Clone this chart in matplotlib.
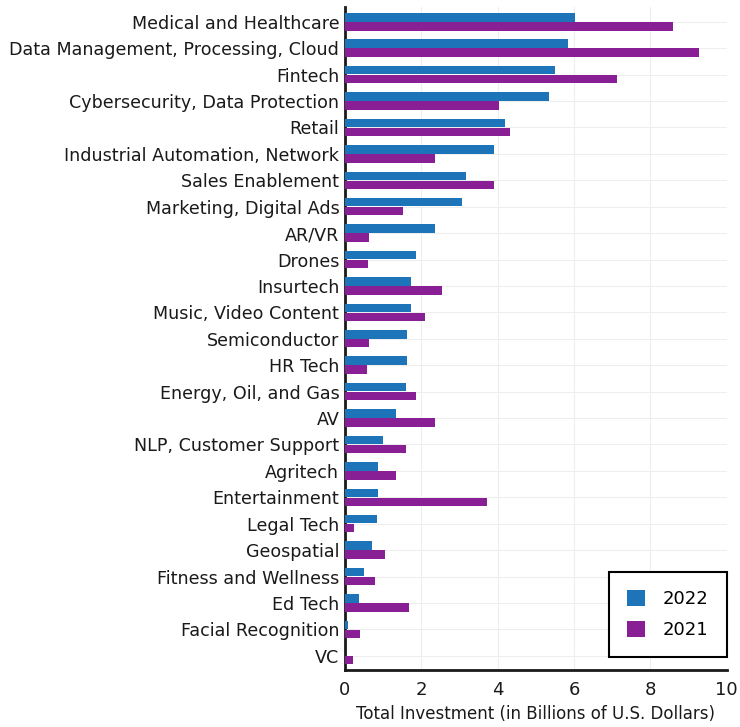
import matplotlib.pyplot as plt
import numpy as np

# categories top to bottom
categories = [
    "Medical and Healthcare", "Data Management, Processing, Cloud", "Fintech",
    "Cybersecurity, Data Protection", "Retail", "Industrial Automation, Network",
    "Sales Enablement", "Marketing, Digital Ads", "AR/VR", "Drones", "Insurtech",
    "Music, Video Content", "Semiconductor", "HR Tech", "Energy, Oil, and Gas",
    "AV", "NLP, Customer Support", "Agritech", "Entertainment", "Legal Tech",
    "Geospatial", "Fitness and Wellness", "Ed Tech", "Facial Recognition", "VC",
]
inv_2022 = [6.03, 5.85, 5.50, 5.35, 4.20, 3.90, 3.16, 3.06, 2.37, 1.87, 1.72,
            1.72, 1.64, 1.64, 1.60, 1.34, 1.01, 0.87, 0.87, 0.84, 0.72, 0.51,
            0.36, 0.07, 0.01]
inv_2021 = [8.60, 9.27, 7.12, 4.05, 4.32, 2.37, 3.90, 1.52, 0.62, 0.61, 2.55,
            2.11, 0.63, 0.57, 1.87, 2.37, 1.60, 1.34, 3.73, 0.24, 1.05, 0.78,
            1.69, 0.40, 0.22]

blue = "#1d74b9"
purple = "#881f94"

fig = plt.figure(figsize=(7.4, 7.27), dpi=100)
ax = fig.add_axes([0.466, 0.078, 0.516, 0.912])

y = np.arange(len(categories))[::-1]
h = 0.32
ax.barh(y + 0.17, inv_2022, height=h, color=blue, label="2022", zorder=3)
ax.barh(y - 0.17, inv_2021, height=h, color=purple, label="2021", zorder=3)

ax.set_yticks(y)
ax.set_yticklabels(categories, fontsize=12.6, color="#1a1a1a")
ax.set_ylim(-0.55, len(categories) - 0.45)
ax.set_xlim(0, 10)
ax.set_xticks([0, 2, 4, 6, 8, 10])
ax.tick_params(axis="x", labelsize=13, length=0, pad=8, colors="#1a1a1a")
ax.tick_params(axis="y", length=0, pad=4)
ax.set_xlabel("Total Investment (in Billions of U.S. Dollars)", fontsize=12,
              color="#1a1a1a", labelpad=4)

ax.grid(True, color="#eeeeee", linewidth=0.8, zorder=0)
for s in ["top", "right"]:
    ax.spines[s].set_visible(False)
for s in ["left", "bottom"]:
    ax.spines[s].set_linewidth(2)
    ax.spines[s].set_color("#1a1a1a")

leg = ax.legend(loc="lower right", bbox_to_anchor=(1.0, 0.02), borderaxespad=0,
                fontsize=13, fancybox=False, edgecolor="black", framealpha=1,
                handlelength=1.0, handleheight=1.0, handletextpad=1.0,
                borderpad=1.0, labelspacing=0.7)
leg.get_frame().set_linewidth(1.5)

fig.savefig("out.png", dpi=100)
